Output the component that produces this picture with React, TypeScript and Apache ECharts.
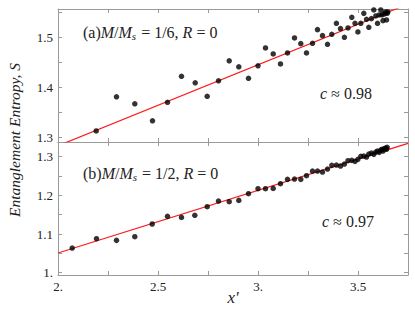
import React, { useEffect, useRef } from "react";
import * as echarts from "echarts";

// x' values shared by both panels
const xA = [2.191, 2.2925, 2.384, 2.4725, 2.5475, 2.6175, 2.686, 2.746, 2.8025, 2.856, 2.904, 2.9525, 3.0, 3.0375, 3.076, 3.1125, 3.1475, 3.1825, 3.214, 3.2425, 3.2725, 3.2975, 3.3225, 3.3475, 3.369, 3.392, 3.4125, 3.432, 3.45, 3.469, 3.485, 3.4995, 3.514, 3.529, 3.5425, 3.554, 3.567, 3.579, 3.589, 3.5975, 3.606, 3.614, 3.62, 3.625, 3.632, 3.6375, 3.6425, 3.646, 3.649];
const sA = [1.3127, 1.381, 1.367, 1.333, 1.370, 1.422, 1.409, 1.382, 1.413, 1.453, 1.441, 1.418, 1.443, 1.4787, 1.4667, 1.4467, 1.4687, 1.4987, 1.4873, 1.4687, 1.488, 1.5153, 1.5033, 1.486, 1.506, 1.528, 1.5173, 1.5, 1.5187, 1.54, 1.528, 1.5107, 1.528, 1.548, 1.536, 1.52, 1.5373, 1.5547, 1.5427, 1.528, 1.5447, 1.5547, 1.545, 1.5333, 1.5467, 1.5507, 1.5347, 1.548, 1.5507];

const xB = [2.071, 2.1925, 2.2925, 2.384, 2.471, 2.5475, 2.6175, 2.684, 2.746, 2.8025, 2.856, 2.904, 2.9525, 3.0, 3.0375, 3.076, 3.1125, 3.1475, 3.1825, 3.214, 3.2425, 3.2725, 3.2975, 3.3225, 3.3475, 3.369, 3.392, 3.4125, 3.432, 3.45, 3.469, 3.485, 3.4995, 3.514, 3.529, 3.5425, 3.554, 3.567, 3.579, 3.589, 3.5975, 3.606, 3.614, 3.62, 3.625, 3.632, 3.6375, 3.6425, 3.646];
const sB = [1.0638, 1.088, 1.0836, 1.093, 1.1259, 1.1457, 1.143, 1.1483, 1.1707, 1.1853, 1.1836, 1.187, 1.2043, 1.2172, 1.2172, 1.218, 1.2302, 1.2414, 1.2422, 1.2414, 1.2509, 1.2629, 1.2629, 1.2603, 1.2681, 1.2776, 1.2784, 1.2759, 1.281, 1.2897, 1.2905, 1.2879, 1.2931, 1.3009, 1.3017, 1.2991, 1.3069, 1.3095, 1.306, 1.312, 1.3147, 1.3112, 1.3172, 1.319, 1.3147, 1.3207, 1.3224, 1.319, 1.3241];

// fitted lines (endpoints in data units)
const fitAx = [2.0, 3.75];
const fitAy = [1.283, 1.5665];
const fitBx = [2.0, 3.75];
const fitBy = [1.051, 1.3345];

const xTicks = [2, 2.25, 2.5, 2.75, 3, 3.25, 3.5, 3.75];
const xLabels = [2, 2.5, 3, 3.5];
const yTicksA = [1.3, 1.35, 1.4, 1.45, 1.5, 1.55];
const yLabelsA = [1.3, 1.4, 1.5];
const yTicksB = [1.0, 1.05, 1.1, 1.15, 1.2, 1.25, 1.3];
const yLabelsB = [1.0, 1.1, 1.2, 1.3];

const FONT = "'Liberation Serif', 'DejaVu Serif', serif";
const FRAME = "#9a9a9a";
const TXT = "#222";

const fmt = (v: number) => (Number.isInteger(v) ? v + "." : String(v));

function xAxisCfg(gridIndex: number, pos: "top" | "bottom", labels: boolean) {
  return {
    type: "value",
    gridIndex,
    position: pos,
    min: 2,
    max: 3.75,
    axisLine: { show: true, onZero: false, lineStyle: { color: FRAME, width: 1 } },
    axisTick: { show: true, inside: true, length: 4, customValues: xTicks, lineStyle: { color: FRAME } },
    axisLabel: labels
      ? { show: true, customValues: xLabels, formatter: fmt, fontFamily: FONT, fontSize: 13, color: TXT, margin: 5 }
      : { show: false },
    splitLine: { show: false },
  };
}

function yAxisCfg(gridIndex: number, pos: "left" | "right", min: number, max: number, ticks: number[], labels: number[] | null) {
  return {
    type: "value",
    gridIndex,
    position: pos,
    min,
    max,
    axisLine: { show: true, onZero: false, lineStyle: { color: FRAME, width: 1 } },
    axisTick: { show: true, inside: true, length: 4, customValues: ticks, lineStyle: { color: FRAME } },
    axisLabel: labels
      ? { show: true, customValues: labels, formatter: fmt, fontFamily: FONT, fontSize: 13, color: TXT, margin: 5 }
      : { show: false },
    splitLine: { show: false },
  };
}

const zip = (a: number[], b: number[]) => a.map((v, i) => [v, b[i]]);

const richMath = {
  r: { fontFamily: FONT, fontSize: 16, fill: TXT },
  i: { fontFamily: FONT, fontSize: 16, fontStyle: "italic", fill: TXT },
  e: { fontFamily: FONT, fontSize: 16, fill: TXT, padding: [0, 4, 0, 4] },
  s: { fontFamily: FONT, fontSize: 11, fontStyle: "italic", fill: TXT, padding: [7, 1, 0, 0] },
};

export default function App() {
  const ref = useRef<HTMLDivElement>(null);
  useEffect(() => {
    if (!ref.current) return;
    const chart = echarts.init(ref.current, null, { renderer: "svg" });
    chart.setOption({
      animation: false,
      backgroundColor: "#fff",
      grid: [
        { left: 58, top: 9, width: 350, height: 133, show: false },
        { left: 58, top: 142, width: 350, height: 133, show: false },
      ],
      xAxis: [
        xAxisCfg(0, "bottom", false),
        xAxisCfg(0, "top", false),
        xAxisCfg(1, "bottom", true),
        xAxisCfg(1, "top", false),
      ],
      yAxis: [
        yAxisCfg(0, "left", 1.2906, 1.5566, yTicksA, yLabelsA),
        yAxisCfg(0, "right", 1.2906, 1.5566, yTicksA, null),
        yAxisCfg(1, "left", 0.994, 1.338, yTicksB, yLabelsB),
        yAxisCfg(1, "right", 0.994, 1.338, yTicksB, null),
      ],
      series: [
        {
          type: "line",
          xAxisIndex: 0,
          yAxisIndex: 0,
          data: zip(fitAx, fitAy),
          symbol: "none",
          clip: true,
          lineStyle: { color: "#ff1a1a", width: 1.2 },
          z: 3,
        },
        {
          type: "scatter",
          xAxisIndex: 0,
          yAxisIndex: 0,
          data: zip(xA, sA),
          symbolSize: 5.5,
          itemStyle: { color: "#000" },
          clip: true,
          z: 4,
        },
        {
          type: "line",
          xAxisIndex: 2,
          yAxisIndex: 2,
          data: zip(fitBx, fitBy),
          symbol: "none",
          clip: true,
          lineStyle: { color: "#ff1a1a", width: 1.2 },
          z: 3,
        },
        {
          type: "scatter",
          xAxisIndex: 2,
          yAxisIndex: 2,
          data: zip(xB, sB),
          symbolSize: 5.5,
          itemStyle: { color: "#000" },
          clip: true,
          z: 4,
        },
      ],
      graphic: [
        {
          type: "text",
          x: 83,
          y: 32,
          style: {
            text: "{r|(a)}{i|M}{r|/}{i|M}{s|s}{e|=}{r|1/6, }{i|R}{e|=}{r|0}",
            verticalAlign: "middle",
            rich: richMath,
          },
        },
        {
          type: "text",
          x: 83,
          y: 173,
          style: {
            text: "{r|(b)}{i|M}{r|/}{i|M}{s|s}{e|=}{r|1/2, }{i|R}{e|=}{r|0}",
            verticalAlign: "middle",
            rich: richMath,
          },
        },
        {
          type: "text",
          x: 320,
          y: 93,
          style: {
            text: "{i|c}{e|≈}{r|0.98}",
            verticalAlign: "middle",
            rich: richMath,
          },
        },
        {
          type: "text",
          x: 322,
          y: 221,
          style: {
            text: "{i|c}{e|≈}{r|0.97}",
            verticalAlign: "middle",
            rich: richMath,
          },
        },
        {
          type: "text",
          x: 14,
          y: 140,
          rotation: Math.PI / 2,
          style: {
            text: "Entanglement Entropy, S",
            fontFamily: FONT,
            fontSize: 15.5,
            fontStyle: "italic",
            fill: TXT,
            align: "center",
            verticalAlign: "middle",
          },
        },
        {
          type: "text",
          x: 233,
          y: 297,
          style: {
            text: "x′",
            fontFamily: FONT,
            fontSize: 17,
            fontStyle: "italic",
            fill: TXT,
            align: "center",
            verticalAlign: "middle",
          },
        },
      ],
    });
    return () => chart.dispose();
  }, []);
  return <div ref={ref} style={{ position: "absolute", left: 0, top: 0, width: 415, height: 312 }} />;
}
